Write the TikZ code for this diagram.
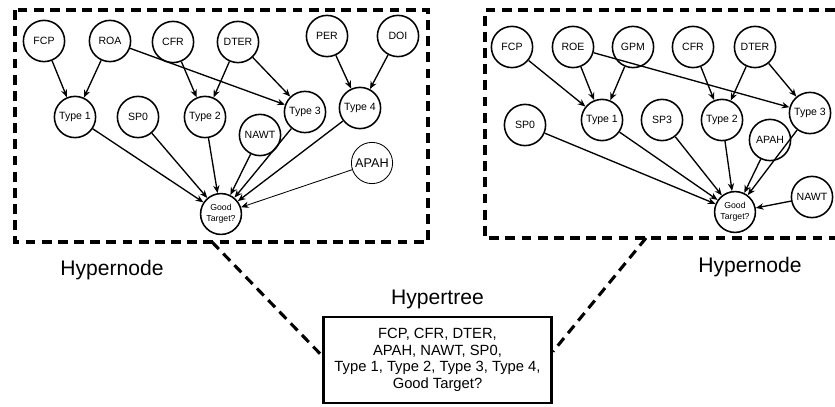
\documentclass[tikz,border=0pt]{standalone}
\usepackage{fontspec}
\setmainfont{Liberation Sans}
\usetikzlibrary{arrows.meta,positioning}

\tikzset{
  var/.style={circle, draw, line width=1.1pt, minimum size=1.03cm, inner sep=0pt, font=\fontsize{7.5}{8}\selectfont},
  goal/.style={var, minimum size=1.02cm, align=center, font=\fontsize{6.2}{7.5}\selectfont},
  edge/.style={line width=0.95pt, -{Stealth[length=5.5pt,width=4.5pt,inset=1.8pt]}},
  hyper/.style={line width=2.2pt, dash pattern=on 7pt off 4.5pt},
  title/.style={font=\fontsize{15}{17}\selectfont}
}

\begin{document}
\begin{tikzpicture}[x=0.025cm, y=-0.025cm]
  \useasboundingbox (0,0) rectangle (835,407);

  % left hypernode
  \draw[hyper] (15,10) rectangle (428,242);
  \foreach \name/\x/\y/\txt in {lfcp/44/41/FCP, lroa/110/41/ROA, lcfr/173/42/CFR, ldter/238/42/DTER,
      lper/327/36/PER, ldoi/398/36/DOI, lt1/75/117/Type 1, lsp0/138/117/SP0, lt2/205/117/Type 2,
      lt3/305/112/Type 3, lt4/360/108/Type 4, lnawt/260/135/NAWT} {
    \node[var] (\name) at (\x,\y) {\txt};
  };
  \node[var, line width=0.6pt, font=\fontsize{9}{10}\selectfont] (lapah) at (372,163) {APAH};
  \node[goal] (lgood) at (221,214) {Good\\Target?};
  \foreach \a/\b in {lfcp/lt1, lroa/lt1, lroa/lt3, lcfr/lt2, ldter/lt2, ldter/lt3, lper/lt4, ldoi/lt4,
      lt1/lgood, lsp0/lgood, lt2/lgood, lnawt/lgood, lt3/lgood, lt4/lgood} {
    \draw[edge] (\a) -- (\b);
  };
  \draw[edge, line width=0.6pt] (lapah) -- (lgood);
  \node[title] (lhyp) at (112,270) {Hypernode};

  % right hypernode
  \draw[hyper] (835,10) -- (485,10) -- (485,238) -- (835,238);
  \foreach \name/\x/\y/\txt in {rfcp/512/47/FCP, rroe/573/47/ROE, rgpm/633/47/GPM, rcfr/693/47/CFR,
      rdter/755/47/DTER, rsp0/525/125/SP0, rt1/602/120/Type 1, rsp3/662/120/SP3, rt2/722/120/Type 2,
      rapah/770/140/APAH, rt3/810/113/Type 3, rnawt/812/197/NAWT} {
    \node[var] (\name) at (\x,\y) {\txt};
  };
  \node[goal] (rgood) at (735,212) {Good\\Target?};
  \foreach \a/\b in {rfcp/rt1, rroe/rt1, rgpm/rt1, rroe/rt3, rcfr/rt2, rdter/rt2, rdter/rt3,
      rsp0/rgood, rt1/rgood, rsp3/rgood, rt2/rgood, rapah/rgood, rt3/rgood, rnawt/rgood} {
    \draw[edge] (\a) -- (\b);
  };
  \node[title] (rhyp) at (750,267) {Hypernode};

  % hypertree
  \node[draw, line width=2pt, minimum width=5.7cm, minimum height=2.15cm, align=center,
        font=\fontsize{10.5}{11.8}\selectfont] (tree) at (437.5,360)
    {FCP, CFR, DTER,\\APAH, NAWT, SP0,\\Type 1, Type 2, Type 3, Type 4,\\Good Target?};
  \node[title, above=1pt of tree] (treelbl) {Hypertree};
  \coordinate (lfoot) at (212,242);
  \coordinate (rfoot) at (646,238);
  \draw[hyper] (lfoot) -- ([yshift=3pt]tree.west);
  \draw[hyper] (rfoot) -- ([yshift=6pt]tree.east);
\end{tikzpicture}
\end{document}
